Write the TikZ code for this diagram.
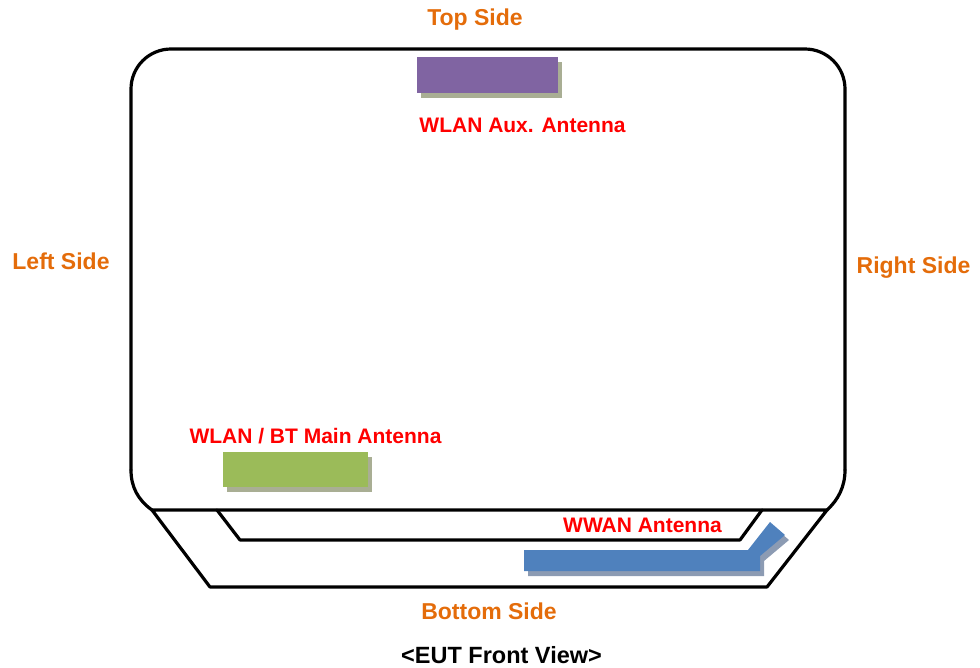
\documentclass[tikz,border=0pt]{standalone}
\usepackage{fontspec}
\setmainfont{Liberation Sans}
\usetikzlibrary{shadows}

\definecolor{sideorange}{HTML}{E46C0A}
\definecolor{auxpurple}{HTML}{8064A2}
\definecolor{maingreen}{HTML}{9BBB59}
\definecolor{wwanblue}{HTML}{4F81BD}
\definecolor{shadowolive}{HTML}{A9AE94}
\definecolor{shadowblue}{HTML}{8C9BB3}

\begin{document}
\begin{tikzpicture}[
    x=1pt, y=-1pt,
    every node/.style={inner sep=0pt, anchor=base},
    side/.style={text=sideorange, font=\fontsize{23}{26}\selectfont\bfseries},
    antlabel/.style={text=red, font=\fontsize{21}{24}\selectfont\bfseries},
    title/.style={text=black, font=\fontsize{23.5}{26}\selectfont\bfseries},
    outline/.style={line width=3.2pt, line cap=round, line join=round},
    antbox/.style={draw=none, anchor=center, minimum width=#1},
    olivesh/.style={drop shadow={shadow xshift=4pt, shadow yshift=-5pt, fill=shadowolive, opacity=1}},
    bluesh/.style={drop shadow={shadow xshift=4pt, shadow yshift=-5pt, fill=shadowblue, opacity=1}}
]
\useasboundingbox (0,0) rectangle (980,667);
% ----- EUT outline: screen part -----
\draw[outline, rounded corners=40pt] (131,470) -- (131,49) -- (845,49) -- (845,470);
\draw[outline] (131,470) .. controls (131,487) and (138,500) .. (152,510);
\draw[outline] (845,470) .. controls (845,487) and (838,500) .. (827,510);
% ----- EUT outline: bottom part -----
\draw[outline] (827,510) -- (152,510) -- (210,587) -- (767,587) -- cycle;
\draw[outline] (217,510) -- (240,540) -- (740,540) -- (762,510);
% ----- antennas -----
\node[antbox=141pt, minimum height=36pt, fill=auxpurple, olivesh] (auxant) at (487.5,75) {};
\node[antbox=145pt, minimum height=35pt, fill=maingreen, olivesh] (mainant) at (295.5,469.5) {};
\fill[wwanblue, bluesh] (524,550) -- (748,550) -- (770,522) -- (785,535) -- (760,556)
    -- (760,571) -- (524,571) -- cycle;
% ----- antenna labels -----
\node[antlabel] (auxlbl) at (522.5,132) {WLAN Aux. Antenna};
\node[antlabel] (mainlbl) at (315.5,443) {WLAN / BT Main Antenna};
\node[antlabel] (wwanlbl) at (642.5,532) {WWAN Antenna};
% ----- side labels -----
\node[side] (top) at (475,25) {Top Side};
\node[side] (left) at (61,269) {Left Side};
\node[side] (right) at (913.5,273) {Right Side};
\node[side] (bottom) at (489,619) {Bottom Side};
\node[title] (view) at (501.5,663) {<EUT Front View>};
\end{tikzpicture}
\end{document}
